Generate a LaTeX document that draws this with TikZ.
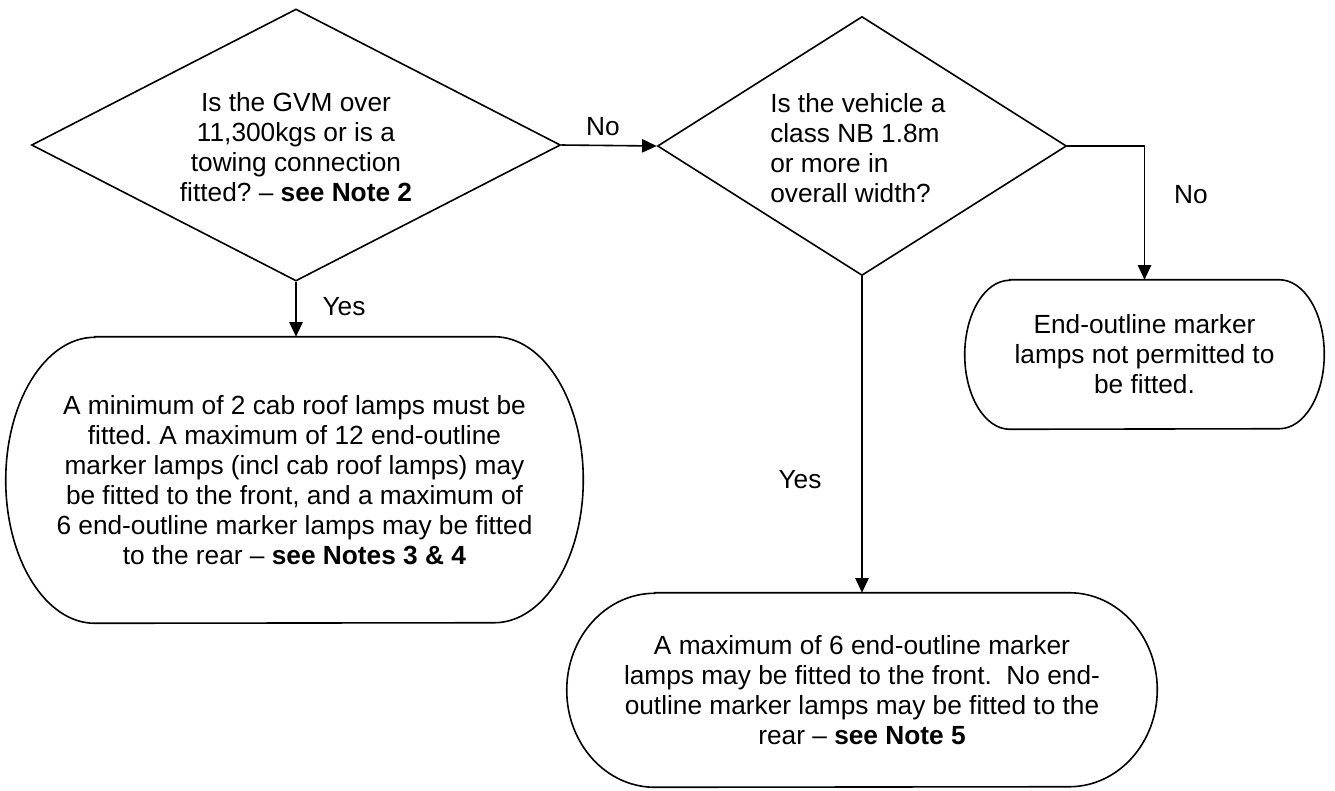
\documentclass[tikz,border=0pt]{standalone}
\usepackage{fontspec}
\setmainfont{Liberation Sans}
\usetikzlibrary{shapes.geometric,arrows.meta}
\frenchspacing
\newcommand\termoutline[3]{%
  \draw[line] ([xshift=#2]#1.north west) -- ([xshift=-#2]#1.north east)
    arc[start angle=90,end angle=-90,x radius=#2,y radius=#3]
    -- ([xshift=#2]#1.south west)
    arc[start angle=270,end angle=90,x radius=#2,y radius=#3] -- cycle;}
\tikzset{
  line/.style={line width=1.2pt, black},
  arr/.style={line, -{Triangle[length=11pt,width=10pt]}},
  decision/.style={diamond, draw, line, inner sep=0pt},
  txt/.style={font=\fontsize{19.7}{22.5}\selectfont, align=center, inner sep=0pt},
  boxnode/.style={rectangle, txt},
}
\begin{document}
\begin{tikzpicture}[x=0.75pt,y=-0.75pt]
\useasboundingbox (0,0) rectangle (1335,790);
% decisions
\node[decision, minimum width=396.75pt, minimum height=204pt] (d1) at (296,145) {};
\node[txt] (t1) at (296,147) {Is the GVM over\\11,300kgs or is a\\towing connection\\fitted? – \textbf{see Note 2}};
\node[decision, minimum width=306.75pt, minimum height=194.25pt] (d2) at (862,146) {};
\node[txt, align=left, anchor=west] (t2) at (770,148) {Is the vehicle a\\class NB 1.8m\\or more in\\overall width?};
% terminators
\node[boxnode, minimum width=432.75pt, minimum height=214.5pt] (b1) at (294.5,480)
  {A minimum of 2 cab roof lamps must be\\fitted. A maximum of 12 end-outline\\marker lamps (incl cab roof lamps) may\\be fitted to the front, and a maximum of\\6 end-outline marker lamps may be fitted\\to the rear – \textbf{see Notes 3 \& 4}};
\termoutline{b1}{66.75pt}{107.25pt}
\node[boxnode, minimum width=442.5pt, minimum height=145.5pt] (b2) at (862,690)
  {A maximum of 6 end-outline marker\\lamps may be fitted to the front.\ \ No end-\\outline marker lamps may be fitted to the\\rear – \textbf{see Note 5}};
\termoutline{b2}{66pt}{72.75pt}
\node[boxnode, minimum width=269.25pt, minimum height=111.75pt] (b3) at (1144.5,354.5)
  {End-outline marker\\lamps not permitted to\\be fitted.};
\termoutline{b3}{33.75pt}{55.875pt}
% connectors
\draw[arr] (d1.east) -- (d2.west);
\draw[arr] (d1.south) -- (d1.south |- b1.north);
\draw[arr] (d2.east) -| (b3.north);
\draw[arr] (d2.south) -- (d2.south |- b2.north);
% labels
\node[txt] (lno1) at (603,127) {No};
\node[txt] (lyes1) at (344,307) {Yes};
\node[txt] (lno2) at (1191,195) {No};
\node[txt] (lyes2) at (800,480) {Yes};
\end{tikzpicture}
\end{document}
